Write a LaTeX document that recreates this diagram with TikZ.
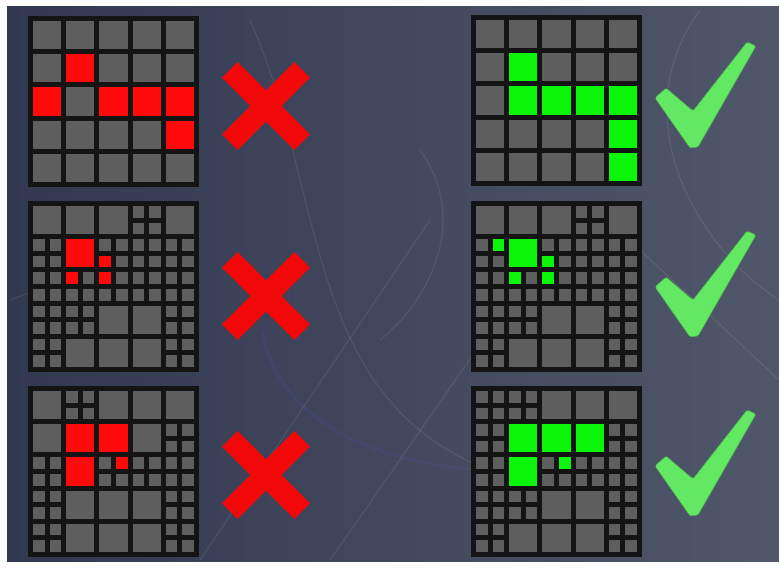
\documentclass[tikz,border=0pt]{standalone}
\usepackage{tikz}
\definecolor{tilegray}{HTML}{5E5E5E}
\definecolor{tilered}{HTML}{FF0A0A}
\definecolor{tilegreen}{HTML}{0AF50A}
\definecolor{markred}{HTML}{F20808}
\definecolor{markgreen}{HTML}{62E862}
\definecolor{bgleft}{HTML}{323850}
\definecolor{bgmid}{HTML}{1F2336}
\definecolor{bgright}{HTML}{51576A}
\newcommand{\bigcell}[3]{\fill[#3] ({5+(#1-1)*33.2},{5+(#2-1)*33.2}) rectangle ++(28.2,28.2);}
\newcommand{\quadcell}[6]{%
  \fill[#3] ({5+(#1-1)*33.2},{5+(#2-1)*33.2}) rectangle ++(11.6,11.6);
  \fill[#4] ({21.6+(#1-1)*33.2},{5+(#2-1)*33.2}) rectangle ++(11.6,11.6);
  \fill[#5] ({5+(#1-1)*33.2},{21.6+(#2-1)*33.2}) rectangle ++(11.6,11.6);
  \fill[#6] ({21.6+(#1-1)*33.2},{21.6+(#2-1)*33.2}) rectangle ++(11.6,11.6);}
\begin{document}
\begin{tikzpicture}[
  x=1pt,y=-1pt,
  frame/.style={fill=black!92},
  streak/.style={draw=white,opacity=.09,line width=1pt},
  cross/.style={draw=markred,line width=22pt},
  check/.style={fill=markgreen,draw=markgreen!75!black,line width=.5pt,rounded corners=1.5pt}
]
\useasboundingbox (0,0) rectangle (779,569);
\fill[white] (0,0) rectangle (779,569);
\shade[left color=bgleft,middle color=bgmid,right color=bgright] (7,7) rectangle (779,561);
% faint streaks in the back
\draw[streak] (250,20) .. controls (330,200) and (300,420) .. (520,480);
\draw[streak,line width=3pt,draw=blue!60!white] (262,330) .. controls (280,440) and (420,480) .. (560,470);
\draw[streak] (420,150) .. controls (470,220) and (430,300) .. (380,340);
\draw[streak] (200,560) -- (430,220);
\draw[streak] (330,560) -- (560,230);
\draw[streak] (700,10) .. controls (620,120) and (700,250) .. (779,300);
\draw[streak] (779,380) -- (640,250);
\draw[streak] (10,300) -- (200,230);

% top row: plain 5x5 boards
\begin{scope}[shift={(28,16)}]
  \fill[frame] (0,0) rectangle (171,171);
  \foreach \c in {1,...,5} \foreach \r in {1,...,5} {\bigcell{\c}{\r}{tilegray}}
  \foreach \c/\r in {2/2,1/3,3/3,4/3,5/3,5/4} {\bigcell{\c}{\r}{tilered}}
\end{scope}
\begin{scope}[shift={(471,15)}]
  \fill[frame] (0,0) rectangle (171,171);
  \foreach \c in {1,...,5} \foreach \r in {1,...,5} {\bigcell{\c}{\r}{tilegray}}
  \foreach \c/\r in {2/2,2/3,3/3,4/3,5/3,5/4,5/5} {\bigcell{\c}{\r}{tilegreen}}
\end{scope}

% middle row
\begin{scope}[shift={(28,201)}]
  \fill[frame] (0,0) rectangle (171,171);
  \foreach \c/\r in {1/1,2/1,3/1,5/1,3/4,4/4,2/5,3/5,4/5} {\bigcell{\c}{\r}{tilegray}}
  \foreach \c/\r in {4/1,1/2,4/2,5/2,1/3,4/3,5/3,1/4,2/4,5/4,1/5,5/5}
    {\quadcell{\c}{\r}{tilegray}{tilegray}{tilegray}{tilegray}}
  \bigcell{2}{2}{tilered}
  \quadcell{3}{2}{tilegray}{tilegray}{tilered}{tilegray}
  \quadcell{2}{3}{tilered}{tilegray}{tilegray}{tilegray}
  \quadcell{3}{3}{tilered}{tilegray}{tilegray}{tilegray}
\end{scope}
\begin{scope}[shift={(471,201)}]
  \fill[frame] (0,0) rectangle (171,171);
  \foreach \c/\r in {1/1,2/1,3/1,5/1,3/4,4/4,2/5,3/5,4/5} {\bigcell{\c}{\r}{tilegray}}
  \foreach \c/\r in {4/1,4/2,5/2,1/3,4/3,5/3,1/4,2/4,5/4,1/5,5/5}
    {\quadcell{\c}{\r}{tilegray}{tilegray}{tilegray}{tilegray}}
  \bigcell{2}{2}{tilegreen}
  \quadcell{1}{2}{tilegray}{tilegreen}{tilegray}{tilegray}
  \quadcell{3}{2}{tilegray}{tilegray}{tilegreen}{tilegray}
  \quadcell{2}{3}{tilegreen}{tilegray}{tilegray}{tilegray}
  \quadcell{3}{3}{tilegreen}{tilegray}{tilegray}{tilegray}
\end{scope}

% bottom row
\begin{scope}[shift={(28,386)}]
  \fill[frame] (0,0) rectangle (171,171);
  \foreach \c/\r in {1/1,3/1,4/1,5/1,1/2,4/2,2/4,3/4,4/4,2/5,3/5,4/5} {\bigcell{\c}{\r}{tilegray}}
  \foreach \c/\r in {2/1,5/2,1/3,4/3,5/3,1/4,5/4,1/5,5/5}
    {\quadcell{\c}{\r}{tilegray}{tilegray}{tilegray}{tilegray}}
  \foreach \c/\r in {2/2,3/2,2/3} {\bigcell{\c}{\r}{tilered}}
  \quadcell{3}{3}{tilegray}{tilered}{tilegray}{tilegray}
\end{scope}
\begin{scope}[shift={(471,386)}]
  \fill[frame] (0,0) rectangle (171,171);
  \foreach \c/\r in {3/1,4/1,5/1,3/4,4/4,2/5,3/5,4/5} {\bigcell{\c}{\r}{tilegray}}
  \foreach \c/\r in {1/1,2/1,1/2,5/2,1/3,4/3,5/3,1/4,2/4,5/4,1/5,5/5}
    {\quadcell{\c}{\r}{tilegray}{tilegray}{tilegray}{tilegray}}
  \foreach \c/\r in {2/2,3/2,4/2,2/3} {\bigcell{\c}{\r}{tilegreen}}
  \quadcell{3}{3}{tilegray}{tilegreen}{tilegray}{tilegray}
\end{scope}

% crosses and ticks
\foreach \dy in {0,190,369} {
  \draw[cross] (229.8,69.8+\dy) -- (302.2,142.2+\dy);
  \draw[cross] (229.8,142.2+\dy) -- (302.2,69.8+\dy);
}
\foreach \dy in {0,189,368} {
  \fill[check,yshift=-\dy] (655,98) -- (666,88) -- (693,111) -- (747,42) -- (756,46)
    -- (698,147) -- (690,148) -- cycle;
}
\end{tikzpicture}
\end{document}
